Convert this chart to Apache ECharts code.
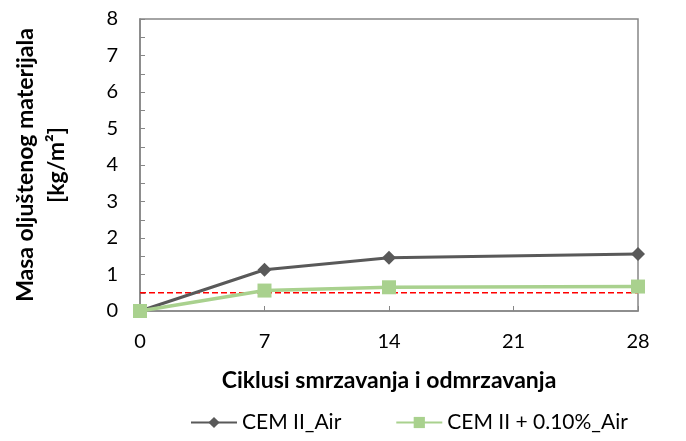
<!DOCTYPE html>
<html>
<head>
<meta charset="utf-8">
<script src="https://cdn.jsdelivr.net/npm/echarts@6/dist/echarts.min.js"></script>
<style>html,body{margin:0;padding:0;background:#fff}#c{width:686px;height:441px}</style>
</head>
<body>
<div id="c"></div>
<script>
// Freeze-thaw cycles and scaled mass per area
const cycles = [0, 7, 14, 28];
const cemAir = [0, 1.13, 1.46, 1.56];
const cemAdd = [0, 0.56, 0.65, 0.67];
const seriesNames = ['CEM II_Air', 'CEM II + 0.10%_Air'];
// Limit value drawn as a dashed reference line across the whole range
const limitValue = 0.5;
const limitRange = [0, 28];

const font = 'Lato, "Open Sans", sans-serif';
const chart = echarts.init(document.getElementById('c'), null, { renderer: 'canvas' });

chart.setOption({
  animation: false,
  backgroundColor: '#fff',
  grid: { left: 140, right: 48, top: 19, bottom: 130, show: true, borderColor: '#868686', borderWidth: 1.5 },
  legend: {
    bottom: 3, left: 185, itemGap: 54, itemWidth: 46, itemHeight: 14,
    textStyle: { fontFamily: font, fontSize: 21, color: '#000' },
    data: seriesNames
  },
  xAxis: {
    type: 'value', min: 0, max: 28, interval: 7,
    name: 'Ciklusi smrzavanja i odmrzavanja', nameLocation: 'middle', nameGap: 58,
    nameTextStyle: { fontFamily: font, fontSize: 23, fontWeight: 'bold', color: '#000' },
    axisLine: { show: true, lineStyle: { color: '#868686', width: 1.5 } },
    axisTick: { show: true, inside: true, length: 5, lineStyle: { color: '#868686' } },
    axisLabel: { fontFamily: font, fontSize: 20, color: '#000', margin: 21 },
    splitLine: { show: false }
  },
  yAxis: {
    type: 'value', min: 0, max: 8, interval: 1,
    name: 'Masa oljuštenog materijala\n[kg/m²]', nameLocation: 'middle', nameGap: 68,
    nameTextStyle: { fontFamily: font, fontSize: 23, fontWeight: 'bold', color: '#000', lineHeight: 31 },
    axisLine: { show: true, lineStyle: { color: '#868686', width: 1.5 } },
    axisTick: { show: true, inside: true, length: 5, lineStyle: { color: '#868686' } },
    minorTick: { show: true, splitNumber: 2, length: 5, lineStyle: { color: '#868686' } },
    axisLabel: { fontFamily: font, fontSize: 20, color: '#000', margin: 22 },
    splitLine: { show: false }
  },
  series: [
    {
      name: 'limit', type: 'line',
      data: limitRange.map(x => [x, limitValue]),
      symbol: 'none', silent: true,
      lineStyle: { color: '#ff0000', type: [6, 3], width: 1.3 },
      z: 2
    },
    {
      name: seriesNames[0], type: 'line',
      data: cycles.map((c, i) => [c, cemAir[i]]),
      symbol: 'diamond', symbolSize: 14,
      lineStyle: { color: '#595959', width: 3 },
      itemStyle: { color: '#595959' },
      z: 3
    },
    {
      name: seriesNames[1], type: 'line',
      data: cycles.map((c, i) => [c, cemAdd[i]]),
      symbol: 'rect', symbolSize: 14,
      lineStyle: { color: '#a9d18e', width: 3.5 },
      itemStyle: { color: '#a9d18e' },
      z: 4
    }
  ]
});
</script>
</body>
</html>
